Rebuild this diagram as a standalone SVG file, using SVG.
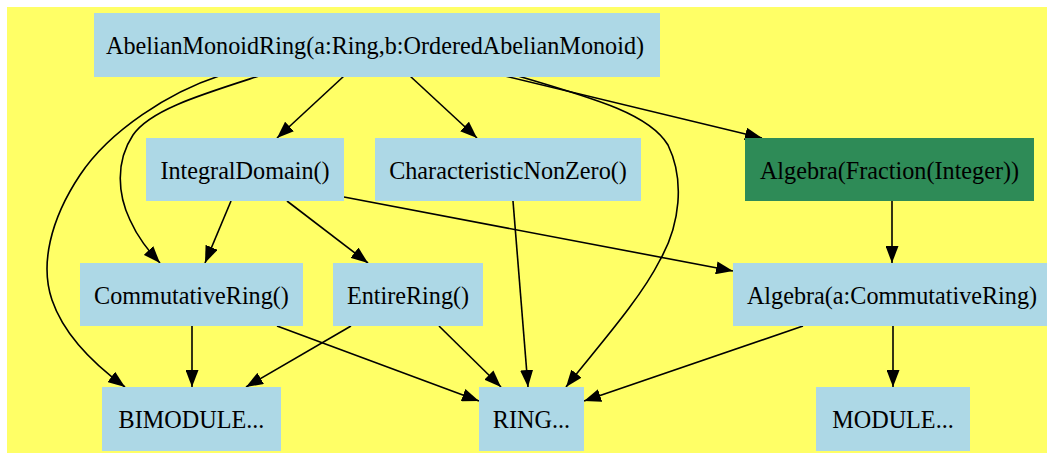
<svg xmlns="http://www.w3.org/2000/svg" width="1047" height="453" viewBox="0 0 1047 453">
<style>
.n{fill:#add8e6}
.g{fill:#2e8b57}
.t{font-family:"Liberation Serif","Times New Roman",serif;font-size:24.2px;fill:#000;text-anchor:middle}
.e{fill:none;stroke:#000;stroke-width:1.6}
</style>
<defs>
<marker id="a" markerUnits="userSpaceOnUse" viewBox="0 0 17 13" markerWidth="17" markerHeight="13" refX="17" refY="6.5" orient="auto">
<path d="M0,0 L17,6.5 L0,13 z" fill="#000"/>
</marker>
</defs>
<rect x="7" y="7" width="1040" height="446" fill="#ffff66"/>
<g id="edges" class="edges">
<path class="e" marker-end="url(#a)" d="M219,76 C170,92 110,130 80,175 C50,220 40,265 52,300 C64,335 95,365 125,387"/>
<path class="e" marker-end="url(#a)" d="M259,76 C200,95 150,110 133,135 C115,162 118,195 130,220 C138,238 148,250 160,263"/>
<path class="e" marker-end="url(#a)" d="M344,76 L277,138"/>
<path class="e" marker-end="url(#a)" d="M410,76 L477,138"/>
<path class="e" marker-end="url(#a)" d="M505,76 L762,138"/>
<path class="e" marker-end="url(#a)" d="M518,76 C600,100 650,115 668,145 C685,180 680,225 660,260 C640,300 595,350 566,387"/>
<path class="e" marker-end="url(#a)" d="M231,201 L205,263"/>
<path class="e" marker-end="url(#a)" d="M287,201 L368,263"/>
<path class="e" marker-end="url(#a)" d="M344,197 L733,271"/>
<path class="e" marker-end="url(#a)" d="M513,201 L528,387"/>
<path class="e" marker-end="url(#a)" d="M892,201 L892,263"/>
<path class="e" marker-end="url(#a)" d="M192,326 L192,387"/>
<path class="e" marker-end="url(#a)" d="M277,326 L479,401"/>
<path class="e" marker-end="url(#a)" d="M351,326 L246,387"/>
<path class="e" marker-end="url(#a)" d="M439,326 L501,387"/>
<path class="e" marker-end="url(#a)" d="M803,326 L584,401"/>
<path class="e" marker-end="url(#a)" d="M893,326 L893,387"/>
</g>
<g id="AbelianMonoidRing"><rect class="n" x="94" y="13" width="566" height="64"/><text class="t" x="375" y="54">AbelianMonoidRing(a:Ring,b:OrderedAbelianMonoid)</text></g>
<g id="IntegralDomain"><rect class="n" x="146" y="138" width="198" height="63"/><text class="t" x="245" y="179">IntegralDomain()</text></g>
<g id="CharacteristicNonZero"><rect class="n" x="375" y="138" width="266" height="63"/><text class="t" x="508" y="179">CharacteristicNonZero()</text></g>
<g id="AlgebraFraction"><rect class="g" x="745" y="138" width="289" height="63"/><text class="t" x="889.5" y="179">Algebra(Fraction(Integer))</text></g>
<g id="CommutativeRing"><rect class="n" x="80" y="263" width="223" height="63"/><text class="t" x="191.5" y="304">CommutativeRing()</text></g>
<g id="EntireRing"><rect class="n" x="333" y="263" width="150" height="63"/><text class="t" x="408" y="304">EntireRing()</text></g>
<g id="AlgebraCommutativeRing"><rect class="n" x="733" y="263" width="320" height="63"/><text class="t" x="892" y="304">Algebra(a:CommutativeRing)</text></g>
<g id="BIMODULE"><rect class="n" x="102" y="387" width="179" height="64"/><text class="t" x="191.5" y="428">BIMODULE...</text></g>
<g id="RING"><rect class="n" x="479" y="387" width="105" height="64"/><text class="t" x="531.5" y="428">RING...</text></g>
<g id="MODULE"><rect class="n" x="816" y="387" width="154" height="64"/><text class="t" x="893" y="428">MODULE...</text></g>
</svg>
